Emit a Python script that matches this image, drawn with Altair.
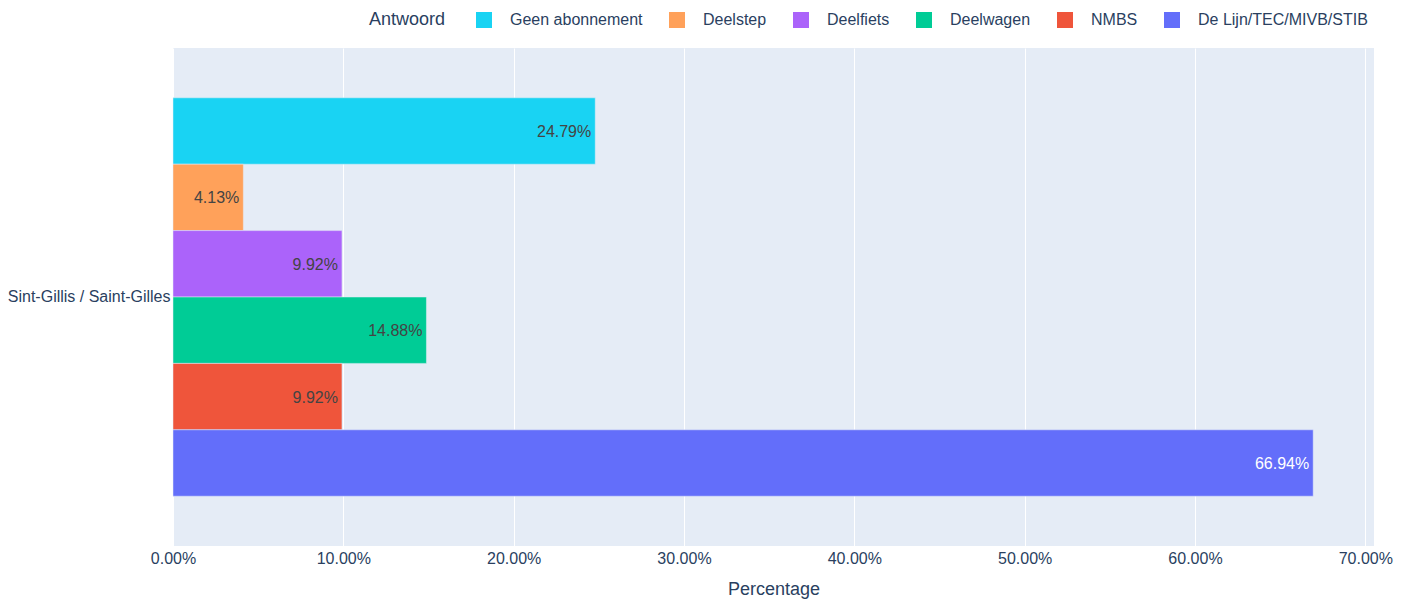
import altair as alt
import pandas as pd

gemeente = ["Sint-Gillis / Saint-Gilles"] * 6
antwoord = ["Geen abonnement", "Deelstep", "Deelfiets", "Deelwagen", "NMBS", "De Lijn/TEC/MIVB/STIB"]
percentage = [0.2479, 0.0413, 0.0992, 0.1488, 0.0992, 0.6694]
kleuren = ["#19D3F3", "#FFA15A", "#AB63FA", "#00CC96", "#EF553B", "#636EFA"]
x_ticks = [0.0, 0.1, 0.2, 0.3, 0.4, 0.5, 0.6, 0.7]

df = pd.DataFrame({"Gemeente": gemeente, "Antwoord": antwoord, "Percentage": percentage})

FONT = "Liberation Sans, Arial, sans-serif"
AXC = "#2a3f5f"

base = alt.Chart(df).encode(
    y=alt.Y(
        "Gemeente:N",
        title=None,
        scale=alt.Scale(paddingInner=0.2, paddingOuter=0.1),
        axis=alt.Axis(labelFontSize=16, labelColor=AXC, ticks=False, domain=False,
                      labelPadding=3, grid=False, labelLimit=400),
    ),
    yOffset=alt.YOffset("Antwoord:N", sort=antwoord,
                        scale=alt.Scale(paddingInner=0, paddingOuter=0)),
    x=alt.X(
        "Percentage:Q",
        title="Percentage",
        scale=alt.Scale(domain=[0, 0.7051], nice=False, zero=True),
        axis=alt.Axis(format=".2%", values=x_ticks, labelFontSize=16, labelColor=AXC,
                      ticks=False, domain=False, labelPadding=4, grid=True,
                      gridColor="white", gridWidth=1, titleFontSize=18,
                      titleFontWeight="normal", titleColor=AXC, titlePadding=14,
                      labelFlush=False, labelOverlap=False),
    ),
)

bars = base.mark_bar(stroke="#E5ECF6", strokeWidth=0.5).encode(
    color=alt.Color(
        "Antwoord:N",
        sort=antwoord,
        scale=alt.Scale(domain=antwoord, range=kleuren),
        legend=alt.Legend(
            title="Antwoord",
            orient="none",
            direction="horizontal",
            legendX=196,
            legendY=-36,
            titleOrient="left",
            titleFontSize=18,
            titleFontWeight="normal",
            titleColor=AXC,
            titlePadding=30,
            labelFontSize=16,
            labelColor=AXC,
            labelOffset=18,
            labelLimit=400,
            columnPadding=26,
            symbolType="square",
            symbolSize=256,
            symbolStrokeWidth=0,
            symbolOpacity=1,
        ),
    )
)

text = base.mark_text(align="right", baseline="middle", dx=-4, dy=1, fontSize=16).encode(
    text=alt.Text("Percentage:Q", format=".2%"),
    color=alt.condition(alt.datum.Antwoord == "De Lijn/TEC/MIVB/STIB",
                        alt.value("white"), alt.value("#444444")),
)

chart = (
    alt.layer(bars, text)
    .properties(
        width=1201,
        height=498,
        autosize=alt.AutoSizeParams(type="none"),
        padding={"left": 165, "top": 40, "right": 30, "bottom": 55},
    )
    .configure(font=FONT)
    .configure_view(fill="#E5ECF6", stroke=None)
)

chart.save("out.html", embed_options={"renderer": "svg", "actions": False})
